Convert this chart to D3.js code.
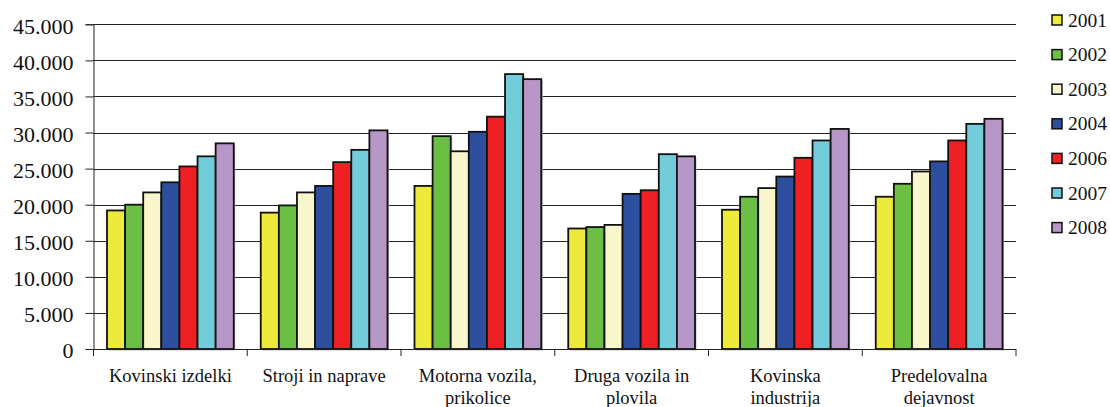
<!DOCTYPE html>
<html><head><meta charset="utf-8">
<script src="https://cdn.jsdelivr.net/npm/d3@7"></script>
<style>body{margin:0;background:#fff}svg{display:block}</style>
</head><body><svg id="c" width="1110" height="407"></svg>
<script>
const categories = [["Kovinski izdelki"],["Stroji in naprave"],["Motorna vozila,","prikolice"],["Druga vozila in","plovila"],["Kovinska","industrija"],["Predelovalna","dejavnost"]];
const years = ["2001","2002","2003","2004","2006","2007","2008"];
const colors = ["#EDEA3C","#6DBE45","#FAF6CC","#2E4E9E","#EE2024","#72CCDA","#B797C7"];
const v2001 = [19200,18900,22600,16700,19300,21100];
const v2002 = [20000,19900,29500,16900,21100,22900];
const v2003 = [21700,21700,27400,17200,22300,24600];
const v2004 = [23100,22600,30100,21500,23900,26000];
const v2006 = [25300,25900,32200,22000,26500,28900];
const v2007 = [26700,27600,38100,27000,28900,31200];
const v2008 = [28500,30300,37400,26700,30500,31900];
const series = [v2001,v2002,v2003,v2004,v2006,v2007,v2008];
const yTicks = [0,5000,10000,15000,20000,25000,30000,35000,40000,45000];

const FONT = "Liberation Serif";
const svg = d3.select("#c");
const L = 93.5, R = 1016, T = 24.3, B = 349;
const x0 = d3.scaleBand().domain(d3.range(categories.length)).range([L,R]).padding(0);
const x1 = d3.scaleBand().domain(d3.range(years.length)).range([13.5, x0.bandwidth()-13.5]).padding(0);
const y = d3.scaleLinear().domain([0,45000]).range([B,T]);
const fmt = d => d===0 ? "0" : d3.format(",")(d).replace(/,/g,".");

// gridlines
svg.append("g").selectAll("line").data(yTicks.filter(d=>d>0)).join("line")
  .attr("x1",L).attr("x2",R).attr("y1",d=>Math.round(y(d))+0.5).attr("y2",d=>Math.round(y(d))+0.5)
  .attr("stroke","#222").attr("stroke-width",1);

// bars
const g = svg.append("g");
series.forEach((s,si)=>{
  g.append("g").selectAll("rect").data(s).join("rect")
    .attr("x",(d,i)=>x0(i)+x1(si)+1.5).attr("y",d=>y(d)+1.5)
    .attr("width",x1.bandwidth()).attr("height",d=>B-y(d))
    .attr("fill","#bbb");
  g.append("g").selectAll("rect").data(s).join("rect")
    .attr("x",(d,i)=>x0(i)+x1(si)).attr("y",d=>y(d))
    .attr("width",x1.bandwidth()).attr("height",d=>B-y(d))
    .attr("fill",colors[si]).attr("stroke","#111").attr("stroke-width",1.8);
});

// y axis
const ya = svg.append("g").attr("transform",`translate(${L},0)`)
  .call(d3.axisLeft(y).tickValues(yTicks).tickFormat(fmt).tickSize(8).tickPadding(12));
ya.attr("font-family",FONT).attr("font-size",22);
ya.select(".domain").attr("stroke","#222");
ya.selectAll(".tick line").attr("stroke","#222");
ya.selectAll("text").attr("fill","#111").attr("dy","0.4em");

// x axis
const xa = svg.append("g").attr("transform",`translate(0,${B})`).attr("font-family",FONT);
xa.append("line").attr("x1",L).attr("x2",R).attr("y1",0.5).attr("y2",0.5).attr("stroke","#222");
xa.selectAll("line.t").data(d3.range(categories.length+1)).join("line").attr("class","t")
  .attr("x1",i=>i<categories.length?x0(i):R).attr("x2",i=>i<categories.length?x0(i):R)
  .attr("y1",0).attr("y2",7).attr("stroke","#222");
xa.selectAll("text").data(categories).join("text")
  .attr("x",(d,i)=>x0(i)+x0.bandwidth()/2).attr("y",33)
  .attr("text-anchor","middle").attr("font-size",18.5).attr("fill","#111")
  .selectAll("tspan").data(d=>d).join("tspan")
  .attr("x",function(){return d3.select(this.parentNode).attr("x");})
  .attr("dy",(d,i)=>i===0?0:21.5).text(d=>d);

// legend
const lg = svg.append("g").attr("font-family",FONT);
years.forEach((yr,i)=>{
  const cy = 20 + i*34.6;
  lg.append("rect").attr("x",1052).attr("y",cy-5).attr("width",10).attr("height",10)
    .attr("fill",colors[i]).attr("stroke","#111").attr("stroke-width",1.5);
  lg.append("text").attr("x",1068).attr("y",cy+6.5).attr("font-size",19.5).attr("fill","#111").text(yr);
});
</script></body></html>
